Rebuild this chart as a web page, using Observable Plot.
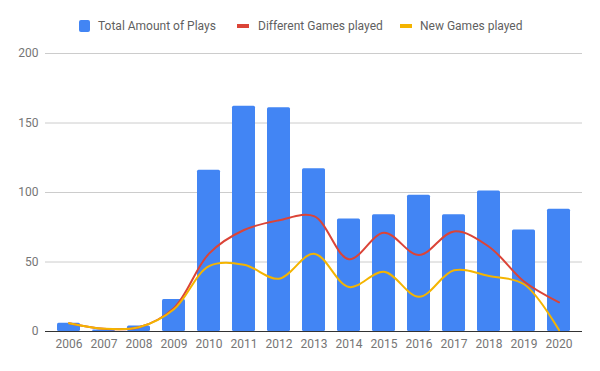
<!DOCTYPE html>
<html>
<head>
<meta charset="utf-8">
<script src="https://cdn.jsdelivr.net/npm/d3@7"></script>
<script src="https://cdn.jsdelivr.net/npm/@observablehq/plot@0.6"></script>
<style>
  html, body { margin: 0; padding: 0; background: #fff; }
  #wrap { position: relative; width: 600px; height: 371px; font-family: Roboto, Arial, sans-serif; }
  #legend { position: absolute; top: 18px; left: 0; width: 600px; height: 16px; font-size: 12px; color: #5f5f5f; }
  .item { position: absolute; top: 0; line-height: 16px; white-space: nowrap; }
  .sw { position: absolute; }
  svg { display: block; }
</style>
</head>
<body>
<div id="wrap">
  <div id="chart"></div>
  <div id="legend"></div>
</div>
<script>
const years = ["2006","2007","2008","2009","2010","2011","2012","2013","2014","2015","2016","2017","2018","2019","2020"];
const totalPlays = [6, 1, 4, 23, 116, 162, 161, 117, 81, 84, 98, 84, 101, 73, 88];
const differentGames = [6, 2, 3, 17, 56, 73, 80, 83, 52, 71, 55, 72, 61, 36, 21];
const newGames = [6, 2, 3, 16, 47, 48, 38, 56, 32, 43, 25, 44, 40, 34, 1];
const yTicks = [0, 50, 100, 150, 200];
const seriesNames = ["Total Amount of Plays", "Different Games played", "New Games played"];
const colors = ["#4285f4", "#db4437", "#f4b400"];

const rows = years.map((y, i) => ({year: y, total: totalPlays[i], diff: differentGames[i], neu: newGames[i]}));

const chart = Plot.plot({
  width: 600,
  height: 371,
  marginTop: 53,
  marginBottom: 40,
  marginLeft: 45,
  marginRight: 18,
  style: {fontFamily: "Roboto, Arial, sans-serif", fontSize: "12px", background: "#fff"},
  x: {type: "band", domain: years, padding: 0.34, label: null, tickSize: 0, tickPadding: 8},
  y: {domain: [0, 200], ticks: yTicks, label: null, tickSize: 0, tickPadding: 7},
  marks: [
    Plot.ruleY(yTicks.filter(d => d > 0), {stroke: "#cccccc", strokeWidth: 1}),
    Plot.barY(rows, {x: "year", y: "total", fill: colors[0], rx: 1.5}),
    Plot.ruleY([0], {stroke: "#333333", strokeWidth: 1}),
    Plot.line(rows, {x: "year", y: "diff", stroke: colors[1], strokeWidth: 2, curve: "catmull-rom"}),
    Plot.line(rows, {x: "year", y: "neu", stroke: colors[2], strokeWidth: 2, curve: "catmull-rom"})
  ]
});
chart.querySelectorAll("[aria-label='x-axis tick label'] text, [aria-label='y-axis tick label'] text").forEach(t => t.setAttribute("fill", "#757575"));
chart.querySelectorAll("[aria-label='x-axis tick label'], [aria-label='y-axis tick label']").forEach(g => g.setAttribute("fill", "#757575"));
document.getElementById("chart").appendChild(chart);

const legend = document.getElementById("legend");
const pos = [{sw: 79, tx: 98}, {sw: 237, tx: 258}, {sw: 400, tx: 420}];
seriesNames.forEach((name, i) => {
  const sw = document.createElement("div");
  sw.className = "sw";
  if (i === 0) {
    Object.assign(sw.style, {left: pos[i].sw + "px", top: "2px", width: "11px", height: "12px", background: colors[i], borderRadius: "2px"});
  } else {
    Object.assign(sw.style, {left: pos[i].sw + "px", top: "6px", width: "12px", height: "4px", background: colors[i]});
  }
  legend.appendChild(sw);
  const t = document.createElement("div");
  t.className = "item";
  t.style.left = pos[i].tx + "px";
  t.textContent = name;
  legend.appendChild(t);
});
</script>
</body>
</html>
